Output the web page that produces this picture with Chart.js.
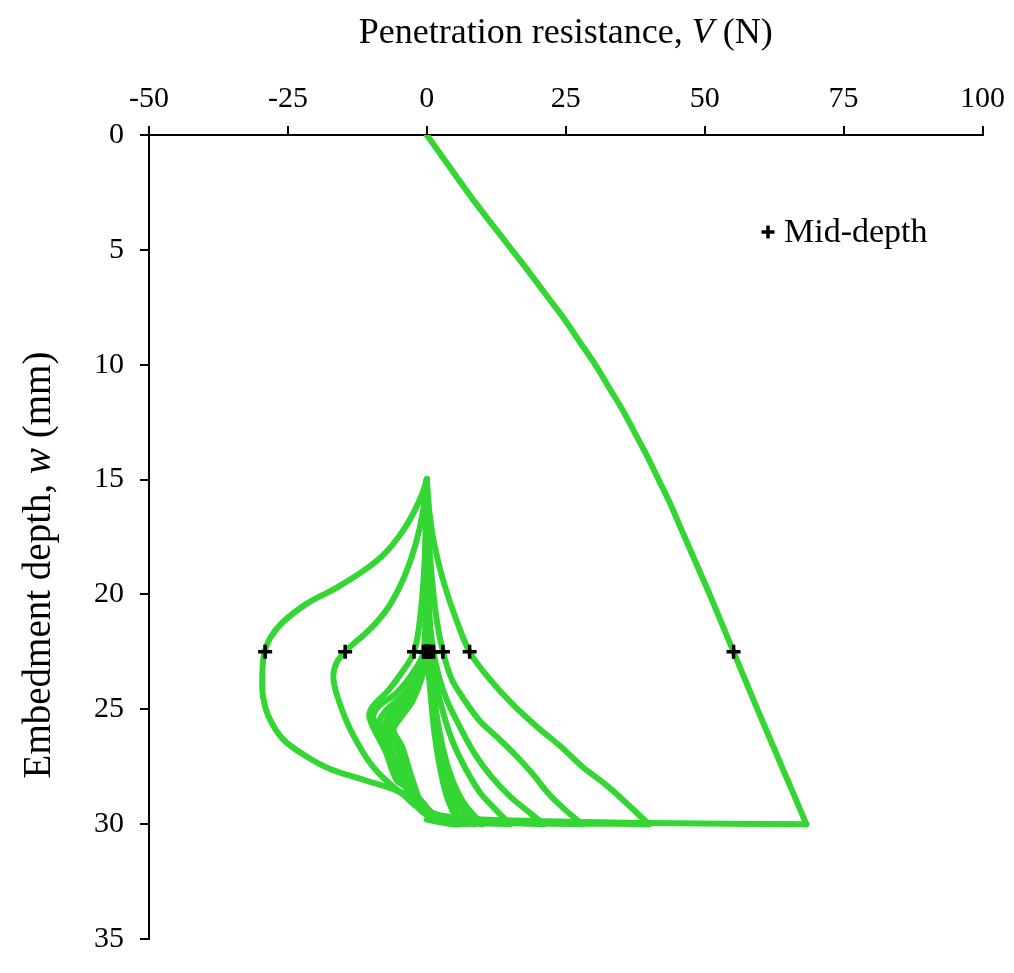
<!DOCTYPE html>
<html>
<head>
<meta charset="utf-8">
<script src="https://cdn.jsdelivr.net/npm/chart.js@4"></script>
<style>
  html, body { margin: 0; padding: 0; background: #fff; }
  #wrap { width: 1014px; height: 973px; }
</style>
</head>
<body>
<div id="wrap"><canvas id="penChart" width="1014" height="973"></canvas></div>
<script>
// Penetration resistance V (N) against embedment depth w (mm), as [V, w] pairs
const monotonic = [[0, 0], [2.95, 1], [5.9, 2], [8.9, 3], [12.1, 4], [15.3, 5], [18.5, 6], [21.6, 7], [24.7, 8],
    [27.5, 9], [30.3, 10], [32.8, 11], [35.3, 12], [37.5, 13], [39.7, 14], [41.7, 15], [43.7, 16], [45.5, 17],
    [47.3, 18], [49.1, 19], [50.9, 20], [55.2, 22.5], [59.5, 25], [63.9, 27.5], [68.3, 30]];

const extract1 = [[68.3, 30], [40, 29.95], [10, 29.8], [2, 29.6], [-2, 29.2], [-4.9, 28.6], [-11, 28.1], [-17.4, 27.6],
    [-22, 27], [-25.9, 26.3], [-28.5, 25.3], [-29.5, 24.4], [-29.6, 23.5], [-29.3, 22.6], [-28.2, 21.9], [-25.9, 21.2],
    [-21.6, 20.4], [-16.2, 19.7], [-11, 18.9], [-7.5, 18.2], [-4.5, 17.3], [-2.3, 16.4], [-0.8, 15.6], [0, 15]];
const push1 = [[0, 15], [0.5, 16.5], [1.5, 18], [3.2, 19.6], [5.3, 21.1], [7.7, 22.5], [11, 23.6], [15.5, 24.8],
    [20, 25.8], [24, 26.6], [28, 27.5], [32.3, 28.3], [36, 29.1], [39.5, 29.9], [40, 30]];

const extract2 = [[40, 30], [20, 29.95], [5, 29.8], [1, 29.5], [-2, 29], [-5.4, 28.5], [-9.7, 27.5], [-13.3, 26.1],
    [-15.6, 24.8], [-16.8, 23.7], [-16.3, 23], [-14.7, 22.5], [-13, 22.1], [-11.5, 21.8], [-9, 21.2], [-6.5, 20.4],
    [-4, 19.2], [-2, 17.8], [-0.7, 16.4], [0, 15]];
const push2 = [[0, 15], [0.2, 17], [0.8, 19], [1.7, 21], [2.9, 22.5], [4.5, 23.7], [6.5, 24.5], [9.5, 25.5],
    [12.6, 26.2], [16, 27], [19, 27.8], [22, 28.7], [25, 29.4], [28, 30]];

const extract3 = [[28, 30], [10, 29.9], [2, 29.7], [-1.3, 28.9], [-3.5, 28.4], [-5.4, 28.1], [-7.5, 26.8], [-10.3, 25.4],
    [-9.8, 24.9], [-7, 24.2], [-4.5, 23.4], [-2.3, 22.5], [-1.2, 21], [-0.5, 19], [-0.2, 17], [0, 15]];
const push3 = [[0, 15], [0.1, 18], [0.5, 21], [1.2, 22.5], [2.2, 23.6], [3.6, 24.6], [5.8, 25.7], [8.5, 26.9],
    [11.5, 27.9], [15, 28.8], [18.5, 29.5], [21, 30]];

const extract4 = [[21, 30], [5, 29.85], [0, 29.6], [-2.5, 29], [-5, 27.8], [-7.5, 26.4], [-9.6, 25.4], [-8.8, 24.9],
    [-5.5, 24.3], [-2.5, 23.4], [-0.6, 22.5], [-0.3, 20], [-0.1, 17], [0, 15]];
const push4 = [[0, 15], [0.1, 18], [0.3, 21], [0.8, 22.5], [1.6, 23.8], [3, 25.2], [4.8, 26.5], [7, 27.6],
    [9.5, 28.6], [12.5, 29.4], [15, 30]];

const extract5 = [[15, 30], [3, 29.85], [-1, 29.4], [-3.5, 28.4], [-5.8, 27.1], [-8.5, 25.6], [-7.5, 25.1],
    [-4, 24.3], [-1.2, 23.3], [-0.3, 22.5], [-0.1, 19], [0, 15]];
const push5 = [[0, 15], [0.1, 19], [0.5, 22.5], [1.1, 24], [2, 25.6], [3.2, 27], [4.8, 28.2], [7, 29.2], [10, 30]];

const extract6 = [[10, 30], [2, 29.8], [-1, 29.3], [-3, 28.2], [-5.2, 26.8], [-7.5, 25.7], [-6.5, 25.2], [-3.5, 24.4],
    [-1, 23.3], [-0.2, 22.5], [0, 19], [0, 15]];
const push6 = [[0, 15], [0.1, 19], [0.3, 22.5], [0.9, 24.2], [1.8, 25.8], [3, 27.2], [4.5, 28.4], [6.5, 29.4], [8.5, 30]];

const extract7 = [[8.5, 30], [1.5, 29.8], [-1, 29.2], [-3, 28], [-5, 26.7], [-6.8, 25.8], [-5.8, 25.3], [-3, 24.5],
    [-0.8, 23.3], [-0.1, 22.5], [0, 19], [0, 15]];
const push7 = [[0, 15], [0, 19], [0.2, 22.5], [0.8, 24.3], [1.6, 26], [2.7, 27.4], [4, 28.6], [5.5, 29.5], [7, 30]];

const extract8 = [[7, 30], [1, 29.8], [-1, 29.1], [-2.8, 27.9], [-4.5, 26.6], [-6, 25.9], [-4.8, 25.4], [-2.5, 24.6],
    [-0.5, 23.3], [0, 22.5], [0, 19], [0, 15]];
const push8 = [[0, 15], [0, 19], [0.1, 22.5], [0.7, 24.4], [1.4, 26.1], [2.4, 27.6], [3.6, 28.8], [5, 29.6], [6, 30],
    [2, 29.9], [0, 29.8]];

// Resistance where each stroke passes mid-depth
const midDepth = 22.5;
const midDepthV = [55.2, -29.1, 7.7, -14.7, 2.9, -2.3, 1.2, -0.6, 0.8, -0.3, 0.5, -0.2, 0.3, -0.1, 0.2, 0, 0.1];

const xTicks = [-50, -25, 0, 25, 50, 75, 100];
const yTicks = [0, 5, 10, 15, 20, 25, 30, 35];

const stages = [monotonic, extract1, push1, extract2, push2, extract3, push3, extract4, push4,
    extract5, push5, extract6, push6, extract7, push7, extract8, push8];

const serif = "'Liberation Serif', 'Times New Roman', serif";
const green = '#34d634';

const toPoints = (pairs) => pairs.map(p => ({ x: p[0], y: p[1] }));

// titles with an italic symbol, plus the legend entry in the plot
const textPlugin = {
    id: 'textPlugin',
    afterDraw(chart) {
        const ctx = chart.ctx;
        const area = chart.chartArea;
        const drawMixed = (parts, cx, cy, size) => {
            let total = 0;
            parts.forEach(p => {
                ctx.font = `${p.italic ? 'italic ' : ''}${size}px ${serif}`;
                total += ctx.measureText(p.text).width;
            });
            let x = cx - total / 2;
            parts.forEach(p => {
                ctx.font = `${p.italic ? 'italic ' : ''}${size}px ${serif}`;
                ctx.fillText(p.text, x, cy);
                x += ctx.measureText(p.text).width;
            });
        };
        ctx.save();
        ctx.fillStyle = '#000';
        ctx.textAlign = 'left';
        ctx.textBaseline = 'middle';
        drawMixed([{ text: 'Penetration resistance, ' }, { text: 'V', italic: true }, { text: ' (N)' }],
            (area.left + area.right) / 2, 34, 36);

        ctx.translate(40, (area.top + area.bottom) / 2 + 28);
        ctx.rotate(-Math.PI / 2);
        drawMixed([{ text: 'Embedment depth, ' }, { text: 'w', italic: true }, { text: ' (mm)' }], 0, 0, 39);
        ctx.restore();

        // legend entry
        ctx.save();
        const lx = 768, ly = 232;
        ctx.strokeStyle = '#000';
        ctx.lineWidth = 3.5;
        ctx.beginPath();
        ctx.moveTo(lx - 6.5, ly); ctx.lineTo(lx + 6.5, ly);
        ctx.moveTo(lx, ly - 6.5); ctx.lineTo(lx, ly + 6.5);
        ctx.stroke();
        ctx.fillStyle = '#000';
        ctx.font = `34px ${serif}`;
        ctx.textBaseline = 'middle';
        ctx.fillText('Mid-depth', lx + 16, ly + 1);
        ctx.restore();
    }
};

const lineStyle = {
    showLine: true,
    borderColor: green,
    backgroundColor: green,
    borderWidth: 6,
    borderJoinStyle: 'round',
    borderCapStyle: 'round',
    pointRadius: 0,
    tension: 0.35,
    order: 1
};

new Chart(document.getElementById('penChart'), {
    type: 'scatter',
    data: {
        datasets: [{
            label: 'Mid-depth',
            data: midDepthV.map(v => ({ x: v, y: midDepth })),
            pointStyle: 'cross',
            pointRadius: 7,
            pointBorderWidth: 3.5,
            borderColor: '#000',
            backgroundColor: '#000',
            showLine: false,
            order: 0
        }].concat(stages.map((s, i) => Object.assign({ label: 'stage ' + i, data: toPoints(s) }, lineStyle)))
    },
    options: {
        responsive: false,
        animation: false,
        layout: { padding: { top: 0, left: 0, right: 31, bottom: 17 } },
        plugins: {
            legend: { display: false },
            tooltip: { enabled: false }
        },
        scales: {
            x: {
                type: 'linear',
                position: 'top',
                min: -50,
                max: 100,
                afterBuildTicks: (scale) => { scale.ticks = xTicks.map(v => ({ value: v })); },
                afterFit: (scale) => { scale.height = 135; },
                ticks: { color: '#000', font: { family: serif, size: 30 }, padding: 9, maxRotation: 0 },
                grid: { drawOnChartArea: false, drawTicks: true, tickLength: 9, color: '#000', lineWidth: 2 },
                border: { color: '#000', width: 2 }
            },
            y: {
                type: 'linear',
                reverse: true,
                min: 0,
                max: 35,
                afterBuildTicks: (scale) => { scale.ticks = yTicks.map(v => ({ value: v })); },
                afterFit: (scale) => { scale.width = 149; },
                ticks: { color: '#000', font: { family: serif, size: 30 }, padding: 16 },
                grid: { drawOnChartArea: false, drawTicks: true, tickLength: 9, color: '#000', lineWidth: 2 },
                border: { color: '#000', width: 2 }
            }
        }
    },
    plugins: [textPlugin]
});
</script>
</body>
</html>
